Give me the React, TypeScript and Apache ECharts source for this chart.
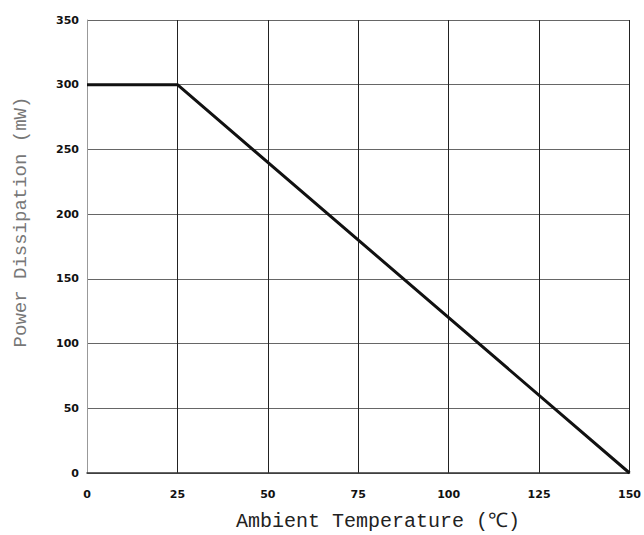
import React, { useEffect, useRef } from "react";
import * as echarts from "echarts";

const temperature: number[] = [0, 25, 150];
const power: number[] = [300, 300, 0];
const xName = "Ambient Temperature (℃)";
const yName = "Power Dissipation (mW)";

export default function App() {
  const ref = useRef<HTMLDivElement>(null);
  useEffect(() => {
    document.body.style.margin = "0";
    const chart = echarts.init(ref.current!, null, { renderer: "svg" });
    chart.setOption({
      animation: false,
      backgroundColor: "#ffffff",
      grid: { left: 87, right: 12, top: 20, bottom: 62, containLabel: false },
      graphic: [
        {
          type: "text",
          x: 378,
          y: 521,
          style: {
            text: xName,
            fontFamily: "Liberation Mono",
            fontSize: 20,
            fill: "#222",
            align: "center",
            verticalAlign: "middle",
          },
        },
        {
          type: "text",
          x: 21,
          y: 222,
          rotation: Math.PI / 2,
          style: {
            text: yName,
            fontFamily: "Liberation Mono",
            fontSize: 19,
            fill: "#777",
            align: "center",
            verticalAlign: "middle",
          },
        },
      ],
      xAxis: {
        type: "value",
        min: 0,
        max: 150,
        interval: 25,
        axisLine: { show: true, lineStyle: { color: "#333", width: 1.5 } },
        axisTick: { show: false },
        axisLabel: { margin: 16, fontSize: 11, fontWeight: "bold", color: "#111", fontFamily: "DejaVu Sans" },
        splitLine: { show: true, lineStyle: { color: "#222", width: 1 } },
      },
      yAxis: {
        type: "value",
        min: 0,
        max: 350,
        interval: 50,
        axisLine: { show: true, lineStyle: { color: "#999", width: 1 } },
        axisTick: { show: false },
        axisLabel: { margin: 8, fontSize: 11, fontWeight: "bold", color: "#111", fontFamily: "DejaVu Sans" },
        splitLine: { show: true, lineStyle: { color: "#666", width: 1 } },
      },
      series: [
        {
          type: "line",
          data: temperature.map((t, i) => [t, power[i]]),
          symbol: "none",
          lineStyle: { color: "#111", width: 3 },
        },
      ],
    });
    return () => chart.dispose();
  }, []);
  return <div ref={ref} style={{ width: 644, height: 535 }} />;
}
